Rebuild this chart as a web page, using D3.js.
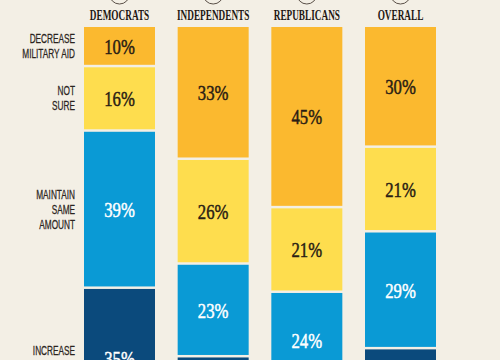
<!DOCTYPE html>
<html>
<head>
<meta charset="utf-8">
<script src="https://cdn.jsdelivr.net/npm/d3@7"></script>
<style>
  body { margin: 0; background: #f3efe5; }
  svg { display: block; }
</style>
</head>
<body>
<script>
var w = 500,
    h = 360;

// survey groups and answers (percent)
var groups = ["DEMOCRATS", "INDEPENDENTS", "REPUBLICANS", "OVERALL"];
var answers = ["decrease", "notsure", "maintain", "increase"];
var answerLabels = [["DECREASE", "MILITARY AID"], ["NOT", "SURE"], ["MAINTAIN", "SAME", "AMOUNT"], ["INCREASE", "MILITARY AID"]];
var decrease = [10, 33, 45, 30];
var notSure  = [16, 26, 21, 21];
var maintain = [39, 23, 24, 29];
var increase = [35, 18, 10, 20];

var colors = ["#fbb92f", "#fedd4e", "#0a9ad5", "#0b4a7c"];
var textColors = ["#2a1d14", "#2a1d14", "#ffffff", "#ffffff"];

var rows = groups.map(function(g, i) {
  return { group: g, decrease: decrease[i], notsure: notSure[i], maintain: maintain[i], increase: increase[i] };
});

var stack = d3.stack().keys(answers)(rows);

var x = d3.scaleBand()
    .domain(groups)
    .range([84, 436])
    .paddingInner(0.242)
    .paddingOuter(0);

var y = d3.scaleLinear()
    .domain([0, 100])
    .range([27, 430]);

var gap = 2.5;

var svg = d3.select("body").append("svg")
    .attr("width", w)
    .attr("height", h);

svg.append("rect")
    .attr("width", w)
    .attr("height", h)
    .attr("fill", "#f3efe5");

// little icon circles above the headers (cropped at the top)
svg.selectAll("circle.icon")
    .data(groups)
    .enter()
    .append("circle")
    .attr("class", "icon")
    .attr("cx", function(d) { return x(d) + x.bandwidth() / 2; })
    .attr("cy", -6)
    .attr("r", 10)
    .attr("fill", "none")
    .attr("stroke", "#5a5048")
    .attr("stroke-width", 1);

// headers
svg.selectAll("text.header")
    .data(groups)
    .enter()
    .append("text")
    .attr("class", "header")
    .attr("transform", function(d) {
      return "translate(" + (x(d) + x.bandwidth() / 2) + ",19.5) scale(0.66,1)";
    })
    .attr("text-anchor", "middle")
    .style("font-family", "'Liberation Serif', serif")
    .style("font-weight", "bold")
    .style("font-size", "14px")
    .attr("fill", "#1e1712")
    .text(function(d) { return d; });

var layer = svg.selectAll("g.layer")
    .data(stack)
    .enter()
    .append("g")
    .attr("class", "layer");

layer.selectAll("rect")
    .data(function(s) { return s.map(function(d) { return { key: s.key, idx: s.index, d: d }; }); })
    .enter()
    .append("rect")
    .attr("x", function(p) { return x(p.d.data.group); })
    .attr("width", x.bandwidth())
    .attr("y", function(p) { return y(p.d[0]); })
    .attr("height", function(p) { return y(p.d[1]) - y(p.d[0]) - gap; })
    .attr("fill", function(p) { return colors[p.idx]; });

layer.selectAll("text")
    .data(function(s) { return s.map(function(d) { return { key: s.key, idx: s.index, d: d }; }); })
    .enter()
    .append("text")
    .attr("transform", function(p) {
      var cx = x(p.d.data.group) + x.bandwidth() / 2;
      var cy = (y(p.d[0]) + y(p.d[1]) - gap) / 2;
      return "translate(" + cx + "," + (cy + 8) + ") scale(0.76,1)";
    })
    .attr("text-anchor", "middle")
    .style("font-family", "'Liberation Serif', serif")
    .style("font-size", "22px")
    .attr("fill", function(p) { return textColors[p.idx]; })
    .attr("stroke", function(p) { return textColors[p.idx]; })
    .attr("stroke-width", 0.5)
    .text(function(p) { return (p.d[1] - p.d[0]) + "%"; });

// answer labels on the left, centred on the Democrats segments
var dem = stack.map(function(s) { return s[0]; });

svg.selectAll("g.alabel")
    .data(answerLabels)
    .enter()
    .append("g")
    .attr("class", "alabel")
    .each(function(lines, i) {
      var cy = (y(dem[i][0]) + y(dem[i][1]) - gap) / 2;
      var top = cy - (lines.length - 1) * 15 / 2 + 4.5;
      d3.select(this).selectAll("text")
        .data(lines)
        .enter()
        .append("text")
        .attr("transform", function(l, j) { return "translate(75," + (top + j * 15) + ") scale(0.66,1)"; })
        .attr("text-anchor", "end")
        .style("font-family", "'Liberation Sans', sans-serif")
        .style("font-size", "12.5px")
        .attr("fill", "#2a2420")
        .attr("stroke", "#2a2420")
        .attr("stroke-width", 0.25)
        .text(function(l) { return l; });
    });
</script>
</body>
</html>
